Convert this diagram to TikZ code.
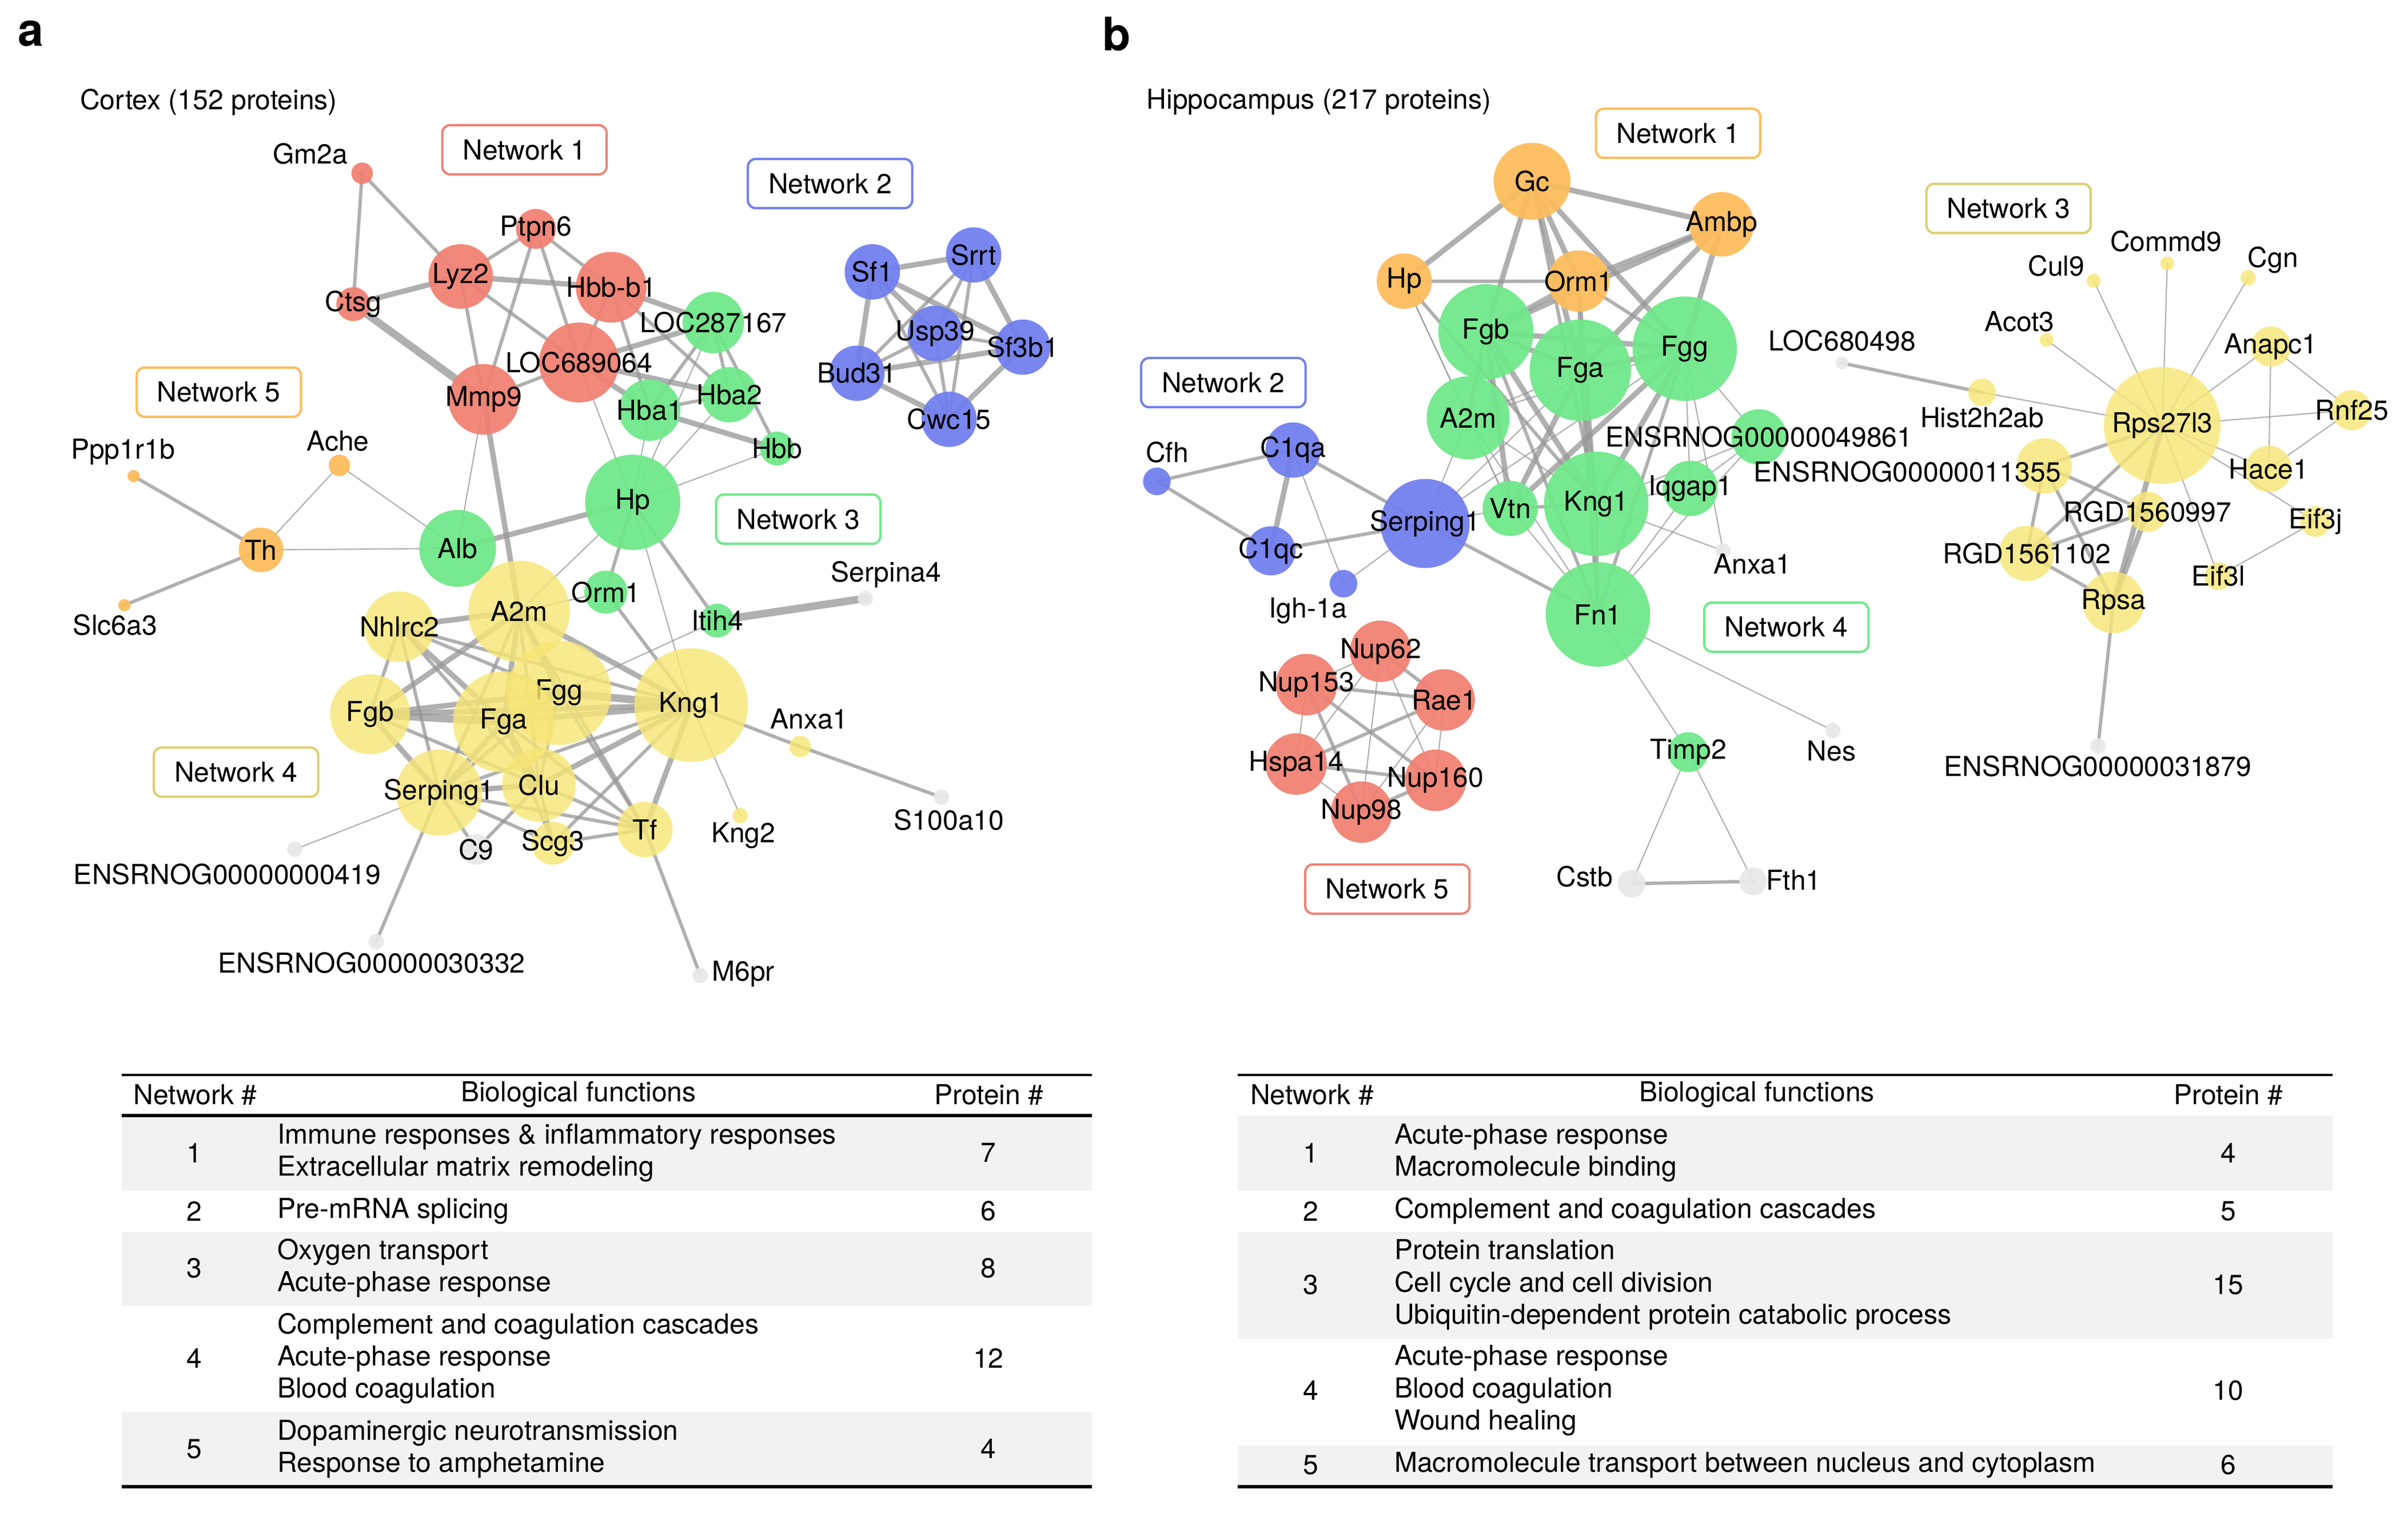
\documentclass[tikz,border=0pt]{standalone}
\usepackage{fontspec}
\setmainfont{TeX Gyre Heros}
\usetikzlibrary{positioning}
\pgfdeclarelayer{edges}
\pgfsetlayers{edges,main}

\definecolor{nred}{RGB}{240,130,115}
\definecolor{ngreen}{RGB}{112,232,138}
\definecolor{nblue}{RGB}{114,128,238}
\definecolor{norange}{RGB}{253,189,92}
\definecolor{nyellow}{RGB}{247,230,118}
\definecolor{ngrey}{RGB}{232,232,232}
\definecolor{edgec}{RGB}{150,150,150}
\definecolor{rowshade}{RGB}{242,242,242}

\tikzset{
  prot/.style={circle, inner sep=0pt, minimum size=#1pt, fill opacity=.95, text opacity=1},
  yprot/.style={prot=#1, fill=nyellow, fill opacity=.82},
  lbl/.style={inner sep=0pt},
  netbox/.style={draw=#1, fill=white, line width=1.5pt, rounded corners=5pt,
    minimum width=107pt, minimum height=32pt, inner sep=0pt},
  ebase/.style={draw=edgec, draw opacity=.75, line cap=round},
  ethin/.style={ebase, line width=.8pt},
  emed/.style={ebase, line width=2.2pt},
  ethick/.style={ebase, line width=3.5pt},
  evthick/.style={ebase, line width=5pt},
  panel/.style={inner sep=0pt, font=\fontsize{30}{30}\selectfont\bfseries},
  rule/.style={line width=1.3pt},
  brule/.style={line width=2.2pt}
}

\begin{document}
\begin{tikzpicture}[x=1pt, y=-1pt, font=\fontsize{17.9}{21}\selectfont]
\useasboundingbox (0,0) rectangle (1568,987.3);

% panel letters and titles
\node[panel] (pa) at (20,22) {a};
\node[panel] (pb) at (727,22) {b};
\node[lbl, anchor=west] (ctitle) at (52,66.5) {Cortex (152 proteins)};
\node[lbl, anchor=west] (htitle) at (746.5,66.5) {Hippocampus (217 proteins)};

% ---------- cortex ----------
\node[netbox=nred] (cn1) at (341.5,97.5) {Network 1};
\node[netbox=nblue] (cn2) at (540.5,119.5) {Network 2};
\node[netbox=norange] (cn5) at (142.5,255.3) {Network 5};
\node[netbox=ngreen] (cn3) at (519.8,338) {Network 3};
\node[netbox=nyellow!90!black] (cn4) at (153.7,502.7) {Network 4};

% network 1
\node[prot=14, fill=nred] (gmtwoa) at (235.8,112.8) {};
\node[lbl] (gmtwoa-l) at (202,100) {Gm2a};
\node[prot=26, fill=nred, label=center:Ptpn6] (ptpn) at (349,149) {};
\node[prot=42, fill=nred, label=center:Lyz2] (lyz) at (300,180) {};
\node[prot=22, fill=nred, label=center:Ctsg] (ctsg) at (230,198) {};
\node[prot=46, fill=nred, label=center:Mmp9] (mmp) at (315,260) {};
\node[prot=52, fill=nred, label=center:LOC689064] (loca) at (377,236) {};
\node[prot=46, fill=nred, label=center:Hbb-b1] (hbbb) at (398,187) {};

% network 3
\node[prot=40, fill=ngreen, label=center:LOC287167] (locb) at (464.5,210) {};
\node[prot=40, fill=ngreen, label=center:Hba1] (hbaa) at (423,267) {};
\node[prot=36, fill=ngreen, label=center:Hba2] (hbab) at (475,257) {};
\node[prot=22, fill=ngreen, label=center:Hbb] (hbb) at (506,292) {};
\node[prot=62, fill=ngreen, label=center:Hp] (hp) at (412,327) {};
\node[prot=50, fill=ngreen, label=center:Alb] (alb) at (298,357) {};
\node[prot=28, fill=ngreen, label=center:Orm1] (orm) at (394.5,385.5) {};
\node[prot=22, fill=ngreen, label=center:Itih4] (itih) at (467,404) {};

% network 2
\node[prot=36, fill=nblue, label=center:Sf1] (sfone) at (568,177) {};
\node[prot=36, fill=nblue, label=center:Srrt] (srrt) at (634,166) {};
\node[prot=36, fill=nblue, label=center:Usp39] (usp) at (609,217) {};
\node[prot=36, fill=nblue, label=center:Sf3b1] (sfthree) at (666,226) {};
\node[prot=36, fill=nblue, label=center:Bud31] (bud) at (558,243) {};
\node[prot=36, fill=nblue, label=center:Cwc15] (cwc) at (618,273) {};

% network 5
\node[prot=29, fill=norange, label=center:Th] (th) at (170,358) {};
\node[prot=14, fill=norange] (ache) at (221,303) {};
\node[lbl] (ache-l) at (220,287) {Ache};
\node[prot=8, fill=norange] (ppp) at (87,310) {};
\node[lbl] (ppp-l) at (80,294) {Ppp1r1b};
\node[prot=8, fill=norange] (slc) at (81,394) {};
\node[lbl] (slc-l) at (75,407) {Slc6a3};

% network 4
\node[yprot=46, label=center:Nhlrc2] (nhl) at (260,408) {};
\node[yprot=66, label=center:A2m] (atwom) at (338,398) {};
\node[yprot=52, label=center:Fgb] (fgb) at (241,465) {};
\node[yprot=68, label=center:Fgg] (fgg) at (364,451) {};
\node[yprot=66, label=center:Fga] (fga) at (328,470) {};
\node[yprot=74, label=center:Kng1] (kngone) at (450,459) {};
\node[yprot=56, label=center:Serping1] (serp) at (286,516) {};
\node[yprot=48, label=center:Clu] (clu) at (351,511) {};
\node[yprot=28, label=center:Scg3] (scg) at (360,549) {};
\node[yprot=36, label=center:Tf] (tf) at (420,540) {};
\node[yprot=14] (anxa) at (521,486) {};
\node[lbl] (anxa-l) at (527,468) {Anxa1};
\node[yprot=10] (kngtwo) at (482,531) {};
\node[lbl] (kngtwo-l) at (484,544) {Kng2};

% unassigned
\node[prot=20, fill=ngrey, label=center:C9] (cnine) at (310,553) {};
\node[prot=10, fill=ngrey] (ensa) at (192,553) {};
\node[lbl] (ensa-l) at (148,569) {ENSRNOG00000000419};
\node[prot=10, fill=ngrey] (ensb) at (245,613) {};
\node[lbl] (ensb-l) at (242,627) {ENSRNOG00000030332};
\node[prot=10, fill=ngrey] (serpa) at (563.5,389.6) {};
\node[lbl] (serpa-l) at (577,374) {Serpina4};
\node[prot=10, fill=ngrey] (sten) at (613,519) {};
\node[lbl] (sten-l) at (618,534) {S100a10};
\node[prot=10, fill=ngrey] (msix) at (456,635) {};
\node[lbl] (msix-l) at (484,634) {M6pr};

% ---------- hippocampus ----------
\node[netbox=norange] (hn1) at (1092.7,86.8) {Network 1};
\node[netbox=nblue] (hn2) at (796.6,249.1) {Network 2};
\node[netbox=nyellow!90!black] (hn3) at (1307.9,135.7) {Network 3};
\node[netbox=ngreen] (hn4) at (1163.2,408.3) {Network 4};
\node[netbox=nred] (hn5) at (903.4,578.8) {Network 5};

% network 1
\node[prot=50, fill=norange, label=center:Gc] (gc) at (997.6,118) {};
\node[prot=42, fill=norange, label=center:Ambp] (ambp) at (1121,146) {};
\node[prot=36, fill=norange, label=center:Hp] (hpb) at (914.4,183) {};
\node[prot=40, fill=norange, label=center:Orm1] (ormb) at (1028,183) {};

% network 4
\node[prot=62, fill=ngreen, label=center:Fgb] (fgbb) at (967.6,216) {};
\node[prot=66, fill=ngreen, label=center:Fga] (fgab) at (1029,241) {};
\node[prot=68, fill=ngreen, label=center:Fgg] (fggb) at (1097,227) {};
\node[prot=54, fill=ngreen, label=center:A2m] (atwomb) at (956,272) {};
\node[prot=36, fill=ngreen, label=center:Vtn] (vtn) at (983.4,331) {};
\node[prot=68, fill=ngreen, label=center:Kng1] (kngb) at (1039.4,328) {};
\node[prot=36, fill=ngreen, label=center:Iqgap1] (iqg) at (1100.6,318) {};
\node[prot=36, fill=ngreen, label=center:ENSRNOG00000049861] (ensc) at (1145.4,284.5) {};
\node[prot=68, fill=ngreen, label=center:Fn1] (fn) at (1040.5,400) {};
\node[prot=26, fill=ngreen, label=center:Timp2] (timp) at (1099.3,489.7) {};

% network 2
\node[prot=18, fill=nblue] (cfh) at (753.3,313.4) {};
\node[lbl] (cfh-l) at (760,294.5) {Cfh};
\node[prot=36, fill=nblue, label=center:C1qa] (cqa) at (842,293) {};
\node[prot=32, fill=nblue, label=center:C1qc] (cqc) at (827.6,358.6) {};
\node[prot=18, fill=nblue] (igh) at (874.8,380) {};
\node[lbl] (igh-l) at (851.6,397.7) {Igh-1a};
\node[prot=58, fill=nblue, label=center:Serping1] (serpb) at (928,340.8) {};

% network 5
\node[prot=40, fill=nred, label=center:Nup62] (nupsix) at (899,424) {};
\node[prot=40, fill=nred, label=center:Nup153] (nupone) at (850.7,445.7) {};
\node[prot=40, fill=nred, label=center:Rae1] (rae) at (940.4,455.7) {};
\node[prot=40, fill=nred, label=center:Hspa14] (hspa) at (844,497.4) {};
\node[prot=40, fill=nred, label=center:Nup160] (nupsixty) at (934.8,508) {};
\node[prot=40, fill=nred, label=center:Nup98] (nupnine) at (886.6,528.7) {};

% network 3
\node[yprot=18] (hist) at (1290.7,255.5) {};
\node[lbl] (hist-l) at (1290.7,272) {Hist2h2ab};
\node[yprot=76, label=center:Rps27l3] (rps) at (1408,277) {};
\node[yprot=9] (cul) at (1363.3,182.8) {};
\node[lbl] (cul-l) at (1339,173) {Cul9};
\node[yprot=9] (commd) at (1411.2,171.4) {};
\node[lbl] (commd-l) at (1410.4,157.2) {Commd9};
\node[yprot=10] (cgn) at (1463.9,180.8) {};
\node[lbl] (cgn-l) at (1480,169.4) {Cgn};
\node[yprot=9] (acot) at (1332.6,221.3) {};
\node[lbl] (acot-l) at (1315,209.3) {Acot3};
\node[yprot=26, label=center:Anapc1] (anapc) at (1478.7,225.6) {};
\node[yprot=26, label=center:Rnf25] (rnf) at (1531.4,267) {};
\node[yprot=30, label=center:Hace1] (hace) at (1477.3,305.3) {};
\node[yprot=36] (ense) at (1331.1,303.3) {};
\node[lbl] (ense-l) at (1242,307) {ENSRNOG00000011355};
\node[yprot=26, label=center:RGD1560997] (rgda) at (1398.4,333.2) {};
\node[yprot=36, label=center:RGD1561102] (rgdb) at (1319.7,360.3) {};
\node[yprot=40, label=center:Rpsa] (rpsa) at (1376.2,392.2) {};
\node[yprot=20, label=center:Eif3j] (eifj) at (1507.8,339.5) {};
\node[yprot=18, label=center:Eif3l] (eifl) at (1444.5,375.1) {};

% unassigned
\node[prot=10, fill=ngrey] (anxab) at (1122,358.6) {};
\node[lbl] (anxab-l) at (1141,367) {Anxa1};
\node[prot=10, fill=ngrey] (nes) at (1193.5,475.6) {};
\node[lbl] (nes-l) at (1192.5,489) {Nes};
\node[prot=18, fill=ngrey] (cstb) at (1062.4,575.3) {};
\node[lbl] (cstb-l) at (1031.8,570.7) {Cstb};
\node[prot=18, fill=ngrey] (fth) at (1141.6,573.8) {};
\node[lbl] (fth-l) at (1168,573) {Fth1};
\node[prot=8, fill=ngrey] (locc) at (1199.5,236.4) {};
\node[lbl] (locc-l) at (1199.5,222) {LOC680498};
\node[prot=10, fill=ngrey] (ensd) at (1366.2,485.7) {};
\node[lbl] (ensd-l) at (1366,499) {ENSRNOG00000031879};

% ---------- edges ----------
\begin{pgfonlayer}{edges}
\foreach \a/\b in {ctsg/mmp, itih/serpa, fgb/fga, fga/fgg, fgg/kngone}
  \draw[evthick] (\a.center) -- (\b.center);
\foreach \a/\b in {ctsg/lyz, lyz/hbbb, hbbb/locb, loca/locb, loca/hbaa, loca/hbab,
    mmp/atwom, hbaa/hbb, hp/alb, sfone/srrt, sfone/usp, sfone/sfthree, sfone/bud,
    bud/sfthree, bud/cwc, sfthree/cwc, srrt/sfthree, kngone/atwom, kngone/fga,
    kngone/fgb, kngone/clu, kngone/tf, fgb/fgg, fgb/atwom, fgb/serp, fga/atwom,
    fga/nhl, fga/serp, fga/clu, fgg/atwom, atwom/nhl, serp/clu,
    gc/ambp, gc/hpb, gc/ormb, gc/fgbb, gc/fgab, gc/fggb, ambp/ormb, ambp/fggb,
    ambp/fgab, ambp/fgbb, ormb/fgbb, fgbb/fgab, fgbb/fggb, fgab/fggb, fgbb/vtn,
    fgbb/kngb, fgab/kngb, fgab/vtn, fggb/kngb, fggb/vtn, cqa/cqc, rps/rpsa, rgda/rpsa}
  \draw[ethick] (\a.center) -- (\b.center);
\foreach \a/\b in {gmtwoa/ctsg, gmtwoa/lyz, lyz/ptpn, lyz/mmp, lyz/loca, ptpn/mmp,
    ptpn/loca, ptpn/hbbb, mmp/loca, hbbb/loca, hbbb/hbaa, hbbb/hbab, locb/hbaa,
    locb/hbab, locb/hbb, hbaa/hbab, th/ppp, th/slc, sfone/cwc, srrt/usp, srrt/bud,
    srrt/cwc, usp/sfthree, usp/bud, usp/cwc, hp/orm, hp/itih, orm/kngone,
    kngone/nhl, kngone/serp, kngone/scg, kngone/anxa, fgb/nhl, fgb/clu, fga/scg,
    fga/tf, fgg/nhl, fgg/clu, fgg/tf, fgg/serp, atwom/clu, atwom/serp, atwom/tf,
    nhl/serp, nhl/clu, serp/cnine, serp/scg, serp/ensb, serp/tf, clu/cnine,
    clu/scg, clu/tf, scg/tf, tf/msix, anxa/sten,
    gc/kngb, hpb/ormb, hpb/kngb, ormb/fgab, ormb/fggb, ormb/kngb, fgbb/atwomb,
    fgbb/fn, fgab/fn, fggb/fn, vtn/kngb, kngb/fn, serpb/fn, serpb/cqa, serpb/cqc,
    cqa/cfh, cfh/cqc, cstb/fth, hist/locc, rps/ense, rps/rgdb, ense/rgdb,
    ense/rgda, ense/rpsa, rgdb/rgda, rgdb/rpsa, rpsa/ensd, nupsix/rae, nupone/rae,
    nupone/nupnine, nupone/nupsixty, rae/hspa, hspa/nupsixty, nupsixty/nupnine}
  \draw[emed] (\a.center) -- (\b.center);
\foreach \a/\b in {mmp/alb, hp/hbaa, hp/locb, hp/hbab, hp/hbb, hp/loca, alb/ache,
    alb/th, th/ache, hp/atwom, hp/kngone, atwom/orm, itih/fgg, kngone/kngtwo,
    serp/ensa,
    hpb/atwomb, hpb/vtn, ormb/fn, fgab/atwomb, fgab/serpb, fggb/serpb, fggb/atwomb,
    fggb/iqg, fggb/ensc, fggb/anxab, atwomb/serpb, atwomb/kngb, atwomb/fn,
    atwomb/vtn, vtn/fn, vtn/serpb, kngb/iqg, kngb/ensc, kngb/anxab, iqg/fn,
    ensc/fn, ensc/iqg, serpb/igh, cqa/igh, fn/nes, fn/timp, timp/cstb, timp/fth,
    nupsix/nupone, nupsix/nupnine, nupsix/hspa, nupone/hspa, rae/nupsixty,
    rae/nupnine, hspa/nupnine, nupsix/nupsixty, rps/cul, rps/commd, rps/cgn,
    rps/acot, rps/hist, rps/anapc, rps/rnf, rps/hace, rps/eifj, rps/eifl,
    anapc/hace, anapc/rnf, rnf/hace, eifj/eifl}
  \draw[ethin] (\a.center) -- (\b.center);
\end{pgfonlayer}

% ---------- tables ----------
\fill[rowshade] (79.4,727.7) rectangle (711,775.2);
\fill[rowshade] (79.4,801.8) rectangle (711,850.2);
\fill[rowshade] (79.4,919.5) rectangle (711,967);
\draw[rule] (79.4,699.8) -- (711,699.8);
\draw[brule] (79.4,726.4) -- (711,726.4);
\draw[brule] (79.4,968) -- (711,968);

\node[lbl, anchor=west] (lh1) at (86.9,712.5) {Network \#};
\node[lbl] (lh2) at (376.7,712.5) {Biological functions};
\node[lbl] (lh3) at (644,712.5) {Protein \#};
\foreach \n/\y/\p in {1/750.5/7, 2/788.5/6, 3/825.5/8, 4/884.4/12, 5/943.3/4} {
  \node[lbl] (lnum\n) at (126.4,\y) {\n};
  \node[lbl] (lprot\n) at (643.6,\y) {\p};
}
\node[lbl, anchor=west, align=left] (lf1) at (180.4,750.5)
  {Immune responses \& inflammatory responses\\Extracellular matrix remodeling};
\node[lbl, anchor=west] (lf2) at (180.4,788.5) {Pre-mRNA splicing};
\node[lbl, anchor=west, align=left] (lf3) at (180.4,825.5)
  {Oxygen transport\\Acute-phase response};
\node[lbl, anchor=west, align=left] (lf4) at (180.4,884.4)
  {Complement and coagulation cascades\\Acute-phase response\\Blood coagulation};
\node[lbl, anchor=west, align=left] (lf5) at (180.4,943.3)
  {Dopaminergic neurotransmission\\Response to amphetamine};

\fill[rowshade] (806,726.2) rectangle (1519,775.2);
\fill[rowshade] (806,801.8) rectangle (1519,871.5);
\fill[rowshade] (806,941) rectangle (1519,967);
\draw[rule] (806,699.8) -- (1519,699.8);
\draw[brule] (806,968) -- (1519,968);

\node[lbl, anchor=west] (rh1) at (814,712.5) {Network \#};
\node[lbl] (rh2) at (1144,712.5) {Biological functions};
\node[lbl] (rh3) at (1451,712.5) {Protein \#};
\foreach \n/\y/\p in {1/750.5/4, 2/788.5/5, 3/836.5/15, 4/905.3/10, 5/953.7/6} {
  \node[lbl] (rnum\n) at (853.6,\y) {\n};
  \node[lbl] (rprot\n) at (1450.9,\y) {\p};
}
\node[lbl, anchor=west, align=left] (rf1) at (907.8,750.5)
  {Acute-phase response\\Macromolecule binding};
\node[lbl, anchor=west] (rf2) at (907.8,788.5) {Complement and coagulation cascades};
\node[lbl, anchor=west, align=left] (rf3) at (907.8,836.5)
  {Protein translation\\Cell cycle and cell division\\Ubiquitin-dependent protein catabolic process};
\node[lbl, anchor=west, align=left] (rf4) at (907.8,905.3)
  {Acute-phase response\\Blood coagulation\\Wound healing};
\node[lbl, anchor=west] (rf5) at (907.8,953.7)
  {Macromolecule transport between nucleus and cytoplasm};
\end{tikzpicture}
\end{document}
